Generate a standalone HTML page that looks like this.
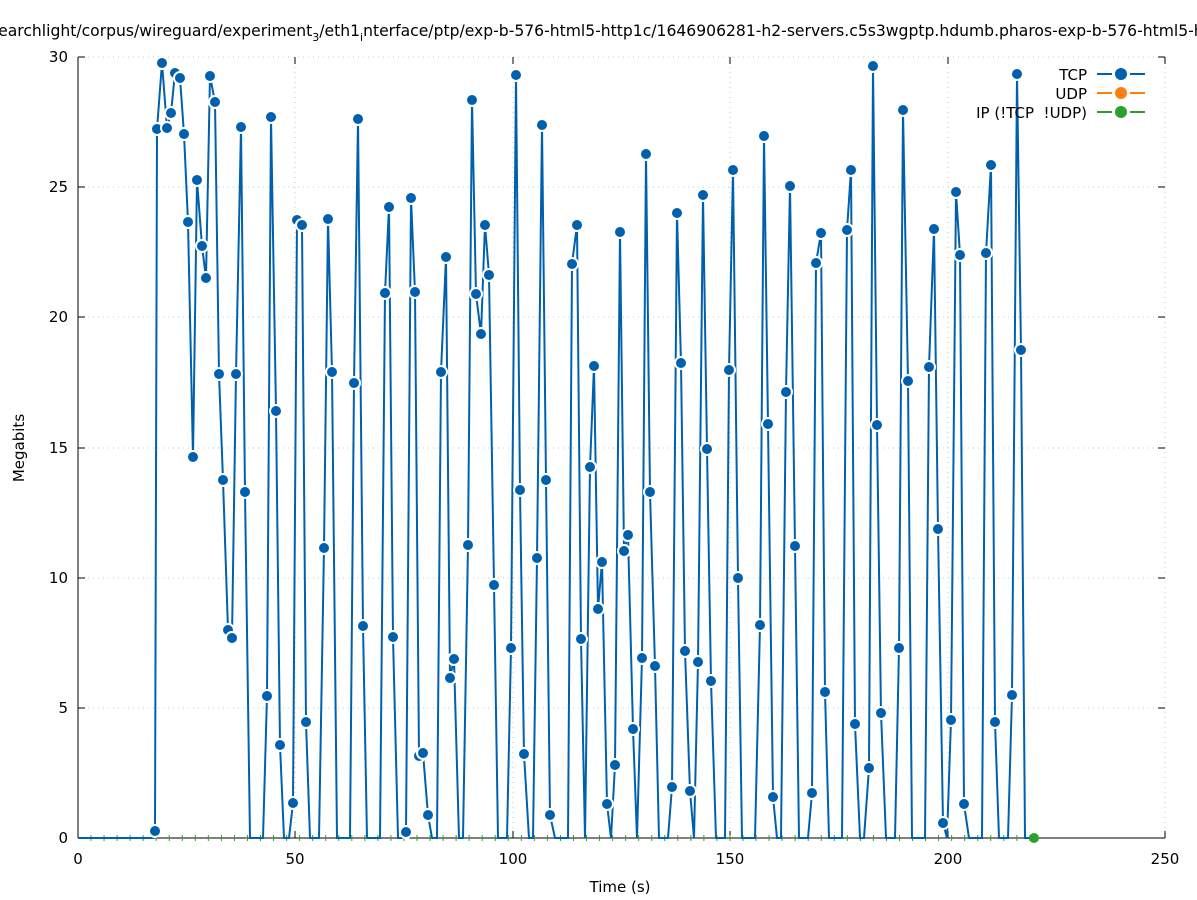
<!DOCTYPE html>
<html><head><meta charset="utf-8"><style>
html,body{margin:0;padding:0;background:#fff;width:1197px;height:900px;overflow:hidden}
text{font-family:"DejaVu Sans","Liberation Sans",sans-serif;font-size:15px;fill:#000;white-space:pre}
</style></head><body>
<svg id="s" width="1197" height="900" xmlns="http://www.w3.org/2000/svg">
<g stroke="#c8c8c8" stroke-dasharray="1,4" stroke-width="1">
<line x1="78" y1="708" x2="1165" y2="708"/><line x1="78" y1="578" x2="1165" y2="578"/>
<line x1="78" y1="448" x2="1165" y2="448"/><line x1="78" y1="317" x2="1165" y2="317"/>
<line x1="78" y1="187" x2="1165" y2="187"/><line x1="78" y1="57" x2="1165" y2="57"/>
<line x1="295" y1="57" x2="295" y2="838"/><line x1="513" y1="57" x2="513" y2="838"/>
<line x1="730" y1="57" x2="730" y2="838"/><line x1="948" y1="57" x2="948" y2="838"/>
<line x1="1165" y1="57" x2="1165" y2="838"/>
</g>
<g id="ticks" stroke="#000" stroke-width="1"></g>
<line x1="78" y1="57" x2="78" y2="838" stroke="#000"/>
<line x1="78" y1="838" x2="1165" y2="838" stroke="#000"/>
<g id="green" stroke="#2ca02c" stroke-width="1"></g>
<polyline id="tcp" fill="none" stroke="#0060ad" stroke-width="2"/>
<g id="mk"></g>
<circle cx="1034" cy="838" r="5" fill="#2ca02c"/>
<g text-anchor="end">
<text x="68" y="843">0</text><text x="68" y="713">5</text><text x="68" y="583">10</text>
<text x="68" y="453">15</text><text x="68" y="322">20</text><text x="68" y="192">25</text><text x="68" y="62">30</text>
</g>
<g text-anchor="middle">
<text x="78" y="864">0</text><text x="295" y="864">50</text><text x="513" y="864">100</text>
<text x="730" y="864">150</text><text x="948" y="864">200</text><text x="1165" y="864">250</text>
<text x="620" y="892">Time (s)</text>
<text transform="translate(24,448) rotate(-90)">Megabits</text>
</g>
<text x="-10" y="36" style="font-size:15.6px">searchlight/corpus/wireguard/experiment<tspan font-size="11" dy="5">3</tspan><tspan dy="-5">/eth1</tspan><tspan font-size="11" dy="5">i</tspan><tspan dy="-5">nterface/ptp/exp-b-576-html5-http1c/1646906281-h2-servers.c5s3wgptp.hdumb.pharos-exp-b-576-html5-http1c</tspan></text>
<g text-anchor="end">
<text x="1087" y="80">TCP</text><text x="1087" y="99">UDP</text><text x="1087" y="118">IP (!TCP  !UDP)</text>
</g>
<g stroke-width="2">
<line x1="1097" y1="74" x2="1112" y2="74" stroke="#0060ad"/><line x1="1130" y1="74" x2="1145" y2="74" stroke="#0060ad"/>
<line x1="1097" y1="93" x2="1112" y2="93" stroke="#ff7f0e"/><line x1="1130" y1="93" x2="1145" y2="93" stroke="#ff7f0e"/>
<line x1="1097" y1="112" x2="1112" y2="112" stroke="#2ca02c"/><line x1="1130" y1="112" x2="1145" y2="112" stroke="#2ca02c"/>
</g>
<circle cx="1121" cy="74" r="6" fill="#0060ad"/><circle cx="1121" cy="93" r="6" fill="#ff7f0e"/><circle cx="1121" cy="112" r="6" fill="#2ca02c"/>
</svg>
<script>
var Z=838;
var d=[[78,838],[153,838],[155,831],[157,129],[162,63],[167,128],[171,113],[175,73],[180,78],[184,134],[188,222],[193,457],[197,180],[202,246],[206,278],[210,76],[215,102],[219,374],[223,480],[228,630],[232,638],[236,374],[241,127],[245,492],[250,Z],[263,Z],[267,696],[271,117],[276,411],[280,745],[284,Z],[289,Z],[293,803],[297,220],[302,225],[306,722],[310,Z],[319,Z],[324,548],[328,219],[332,372],[337,Z],[350,Z],[354,383],[358,119],[363,626],[367,Z],[380,Z],[385,293],[389,207],[393,637],[398,Z],[402,Z],[406,832],[411,198],[415,292],[419,756],[423,753],[428,815],[432,Z],[437,Z],[441,372],[446,257],[450,678],[454,659],[459,Z],[463,Z],[468,545],[472,100],[476,294],[481,334],[485,225],[489,275],[494,585],[498,Z],[507,Z],[511,648],[516,75],[520,490],[524,754],[529,Z],[533,Z],[537,558],[542,125],[546,480],[550,815],[555,Z],[568,Z],[572,264],[577,225],[581,639],[585,Z],[590,467],[594,366],[598,609],[602,562],[607,804],[611,Z],[615,765],[620,232],[624,551],[628,535],[633,729],[637,Z],[642,658],[646,154],[650,492],[655,666],[659,Z],[668,Z],[672,787],[677,213],[681,363],[685,651],[690,791],[694,Z],[698,662],[703,195],[707,449],[711,681],[716,Z],[725,Z],[729,370],[733,170],[738,578],[742,Z],[755,Z],[760,625],[764,136],[768,424],[773,797],[777,Z],[781,Z],[786,392],[790,186],[795,546],[799,Z],[808,Z],[812,793],[816,263],[821,233],[825,692],[829,Z],[842,Z],[847,230],[851,170],[855,724],[860,Z],[864,Z],[869,768],[873,66],[877,425],[881,713],[886,Z],[895,Z],[899,648],[903,110],[908,381],[912,Z],[925,Z],[929,367],[934,229],[938,529],[943,823],[947,Z],[951,720],[956,192],[960,255],[964,804],[969,Z],[982,Z],[986,253],[991,165],[995,722],[999,Z],[1008,Z],[1012,695],[1017,74],[1021,350],[1025,Z],[1034,Z]];
var ns="http://www.w3.org/2000/svg";
document.getElementById('tcp').setAttribute('points',d.map(function(p){return p[0]+','+p[1]}).join(' '));
var mk=document.getElementById('mk');
d.forEach(function(p){if(p[1]<836){var c=document.createElementNS(ns,'circle');c.setAttribute('cx',p[0]);c.setAttribute('cy',p[1]);c.setAttribute('r',6);c.setAttribute('fill','#0060ad');c.setAttribute('stroke','#fff');c.setAttribute('stroke-width',2);mk.appendChild(c);}});
var g=document.getElementById('green');
for(var x=91;x<1034;x+=13.04){var l=document.createElementNS(ns,'line');l.setAttribute('x1',x);l.setAttribute('x2',x);l.setAttribute('y1',835);l.setAttribute('y2',841);g.appendChild(l);}
var t=document.getElementById('ticks');
function L(a,b,c,e){var l=document.createElementNS(ns,'line');l.setAttribute('x1',a);l.setAttribute('y1',b);l.setAttribute('x2',c);l.setAttribute('y2',e);t.appendChild(l);}
[78,295,513,730,948,1165].forEach(function(x){L(x,838,x,831);L(x,57,x,64);});
[838,708,578,448,317,187,57].forEach(function(y){L(78,y,85,y);L(1165,y,1158,y);});
</script>
</body></html>
